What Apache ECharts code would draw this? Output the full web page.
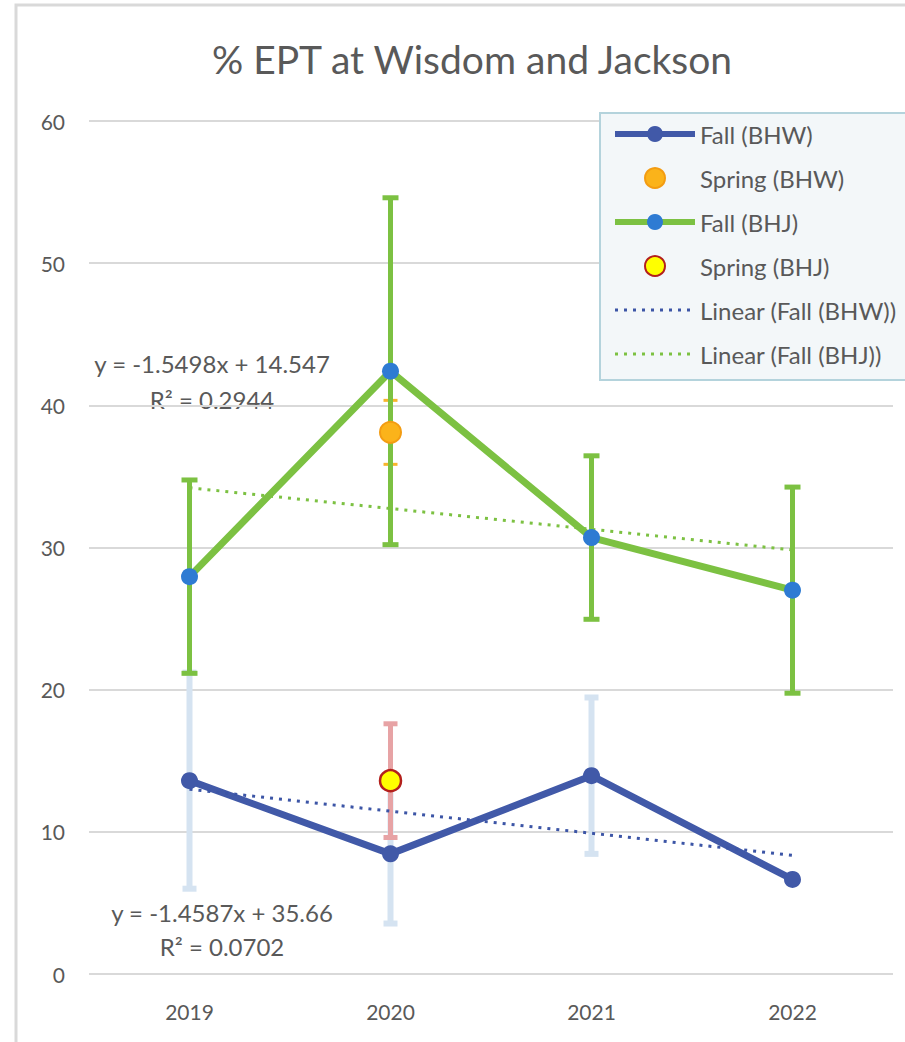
<!DOCTYPE html>
<html>
<head>
<meta charset="utf-8">
<title>% EPT at Wisdom and Jackson</title>
<script src="https://cdn.jsdelivr.net/npm/echarts@6/dist/echarts.min.js"></script>
<style>
  html, body { margin: 0; padding: 0; background: #ffffff; }
  #chart { width: 905px; height: 1042px; }
</style>
</head>
<body>
<div id="chart"></div>
<script>
// Survey years on the category axis
const years = ['2019', '2020', '2021', '2022'];

// Percent EPT, fall samples, with error bar half-widths
const fallBHW = [13.6, 8.45, 13.95, 6.65];
const fallBHWErr = [7.6, 4.9, 5.5, 0];
const fallBHJ = [27.95, 42.4, 30.7, 27.0];
const fallBHJErr = [6.8, 12.2, 5.75, 7.25];

// Spring samples (2020 only)
const springBHW = ['-', 38.1, '-', '-'];
const springBHWErr = [0, 2.25, 0, 0];
const springBHJ = ['-', 13.6, '-', '-'];
const springBHJErr = [0, 4.0, 0, 0];

// Linear trend values of the fall series at each year
const trendBHW = [13.0, 11.45, 9.9, 8.35];
const trendBHJ = [34.2, 32.74, 31.28, 29.83];

// Trend equation texts
const eqBHW = ['y = -1.5498x + 14.547', 'R² = 0.2944'];
const eqBHJ = ['y = -1.4587x + 35.66', 'R² = 0.0702'];

const yTicks = { min: 0, max: 60, interval: 10 };

const TEXT = '#595959';
const FONT = 'Lato, "Open Sans", "Liberation Sans", sans-serif';

// Error bar triples [index, low, high] built from a value list and its half-widths
function errData(vals, errs) {
  const out = [];
  vals.forEach((v, i) => {
    if (v === '-' || !errs[i]) return;
    out.push([i, v - errs[i], v + errs[i]]);
  });
  return out;
}

function errSeries(name, vals, errs, color, lw, capW) {
  return {
    type: 'custom',
    name: name,
    silent: true,
    data: errData(vals, errs),
    encode: { x: 0, y: [1, 2] },
    renderItem: function (params, api) {
      const lo = api.coord([api.value(0), api.value(1)]);
      const hi = api.coord([api.value(0), api.value(2)]);
      const st = { stroke: color, lineWidth: lw, fill: null };
      return {
        type: 'group',
        children: [
          { type: 'line', shape: { x1: lo[0], y1: lo[1], x2: hi[0], y2: hi[1] }, style: st },
          { type: 'line', shape: { x1: lo[0] - capW / 2, y1: lo[1], x2: lo[0] + capW / 2, y2: lo[1] }, style: st },
          { type: 'line', shape: { x1: hi[0] - capW / 2, y1: hi[1], x2: hi[0] + capW / 2, y2: hi[1] }, style: st }
        ]
      };
    }
  };
}

const chart = echarts.init(document.getElementById('chart'), null, { renderer: 'svg' });

const eqStyle = (text) => ({ text: text, fill: TEXT, font: '24px ' + FONT, textAlign: 'center', textVerticalAlign: 'middle' });

chart.setOption({
  backgroundColor: '#ffffff',
  animation: false,
  textStyle: { fontFamily: FONT },
  grid: { left: 89, right: 12, top: 121, bottom: 68, containLabel: false },
  xAxis: {
    type: 'category',
    data: years,
    boundaryGap: true,
    axisLine: { show: false },
    axisTick: { show: false },
    axisLabel: { color: TEXT, fontSize: 21, margin: 27, fontFamily: FONT }
  },
  yAxis: {
    type: 'value',
    min: yTicks.min,
    max: yTicks.max,
    interval: yTicks.interval,
    axisLine: { show: false },
    axisTick: { show: false },
    axisLabel: { color: TEXT, fontSize: 21, margin: 24, fontFamily: FONT },
    splitLine: { lineStyle: { color: '#d9d9d9', width: 2 } }
  },
  legend: {
    orient: 'vertical',
    left: 600,
    top: 113,
    padding: [9, 10, 12, 12],
    z: 10,
    itemWidth: 80,
    itemHeight: 20,
    itemGap: 20,
    textStyle: { color: TEXT, fontSize: 24, lineHeight: 24, fontFamily: FONT },
    data: [
      { name: 'Fall (BHW)', lineStyle: { width: 6 } },
      { name: 'Spring (BHW)' },
      { name: 'Fall (BHJ)', lineStyle: { width: 6 } },
      { name: 'Spring (BHJ)' },
      { name: 'Linear (Fall (BHW))', itemStyle: { opacity: 0 }, lineStyle: { width: 3 } },
      { name: 'Linear (Fall (BHJ))', itemStyle: { opacity: 0 }, lineStyle: { width: 3 } }
    ]
  },
  graphic: [
    // chart frame
    { type: 'polyline', silent: true, z: 0,
      shape: { points: [[16, 1042], [16, 5], [905, 5]] },
      style: { stroke: '#d9d9d9', lineWidth: 3, fill: null } },
    // legend panel, running past the right edge of the frame
    { type: 'rect', silent: true, z: 9,
      shape: { x: 600, y: 113, width: 360, height: 267 },
      style: { fill: '#f3f7f9', stroke: '#b4d3dc', lineWidth: 2 } },
    { type: 'text', x: 472, y: 59, silent: true,
      style: { text: '% EPT at Wisdom and Jackson', fill: TEXT, font: '39px ' + FONT,
               textAlign: 'center', textVerticalAlign: 'middle' } },
    { type: 'text', x: 212, y: 363, silent: true, style: eqStyle(eqBHW[0]) },
    { type: 'text', x: 212, y: 399, silent: true, style: eqStyle(eqBHW[1]) },
    { type: 'text', x: 222, y: 912, silent: true, style: eqStyle(eqBHJ[0]) },
    { type: 'text', x: 222, y: 946, silent: true, style: eqStyle(eqBHJ[1]) }
  ],
  series: [
    errSeries('err-fall-bhw', fallBHW, fallBHWErr, '#d5e3f1', 6, 14),
    errSeries('err-spring-bhw', springBHW, springBHWErr, '#f7b52c', 3, 14),
    errSeries('err-spring-bhj', springBHJ, springBHJErr, '#e7a3a5', 5, 14),
    errSeries('err-fall-bhj', fallBHJ, fallBHJErr, '#7cc142', 5, 16),
    {
      name: 'Fall (BHW)',
      type: 'line',
      data: fallBHW,
      symbol: 'circle',
      symbolSize: 17,
      lineStyle: { color: '#4159a8', width: 7 },
      itemStyle: { color: '#4159a8' }
    },
    {
      name: 'Fall (BHJ)',
      type: 'line',
      data: fallBHJ,
      symbol: 'circle',
      symbolSize: 17,
      lineStyle: { color: '#7cc142', width: 7 },
      itemStyle: { color: '#2e7bd3' }
    },
    {
      name: 'Spring (BHW)',
      type: 'scatter',
      data: springBHW,
      symbol: 'circle',
      symbolSize: 21,
      itemStyle: { color: '#fbb31a', borderColor: '#f39c12', borderWidth: 2, opacity: 1 }
    },
    {
      name: 'Spring (BHJ)',
      type: 'scatter',
      data: springBHJ,
      symbol: 'circle',
      symbolSize: 21,
      itemStyle: { color: '#ffff00', borderColor: '#b3201c', borderWidth: 2.5, opacity: 1 }
    },
    {
      name: 'Linear (Fall (BHW))',
      type: 'line',
      data: trendBHW,
      symbol: 'none',
      lineStyle: { color: '#3c55a6', width: 3, type: [3, 6] },
      itemStyle: { color: '#3c55a6' }
    },
    {
      name: 'Linear (Fall (BHJ))',
      type: 'line',
      data: trendBHJ,
      symbol: 'none',
      lineStyle: { color: '#7cc142', width: 3, type: [3, 6] },
      itemStyle: { color: '#7cc142' }
    }
  ]
});
</script>
</body>
</html>
